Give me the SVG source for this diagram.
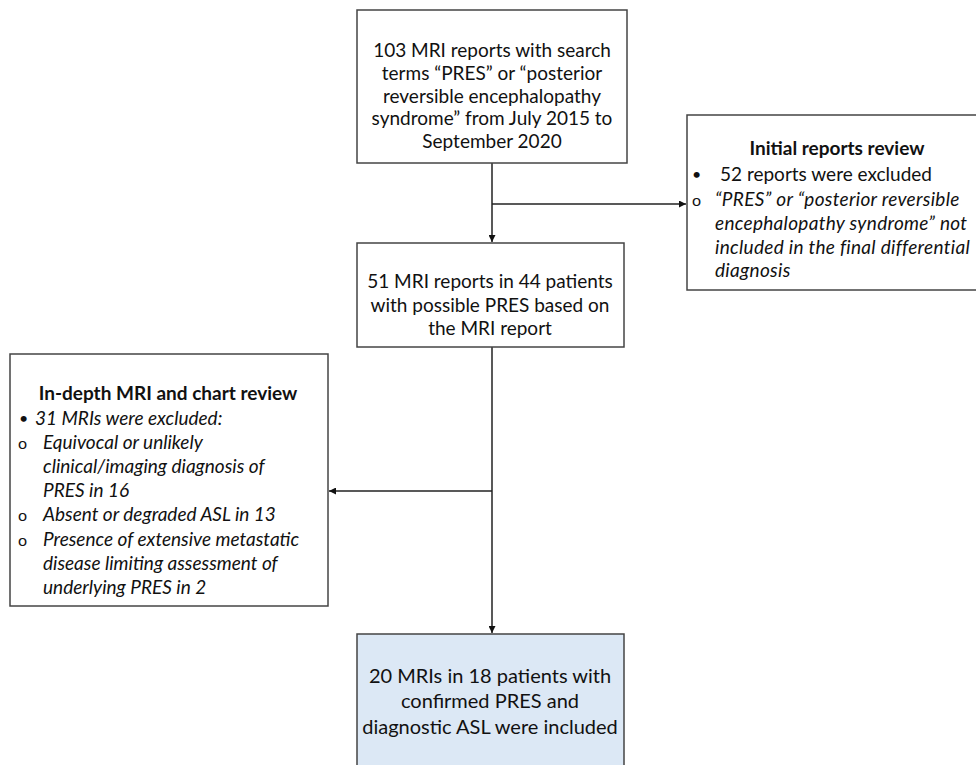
<svg xmlns="http://www.w3.org/2000/svg" width="976" height="765" viewBox="0 0 976 765">
<style>
.box{fill:#fff;stroke:#444;stroke-width:1.5}
.blue{fill:#dce8f5;stroke:#444;stroke-width:1.5}
text{font-family:Lato,"Open Sans","Liberation Sans",sans-serif;font-size:19px;fill:#111}
.c{text-anchor:middle}
.b{font-weight:bold}
.i{font-style:italic}
.o{font-size:16px}
.d{font-size:16px}
.conn{stroke:#222;stroke-width:1.5;fill:none}
</style>
<defs>
<marker id="ah" viewBox="0 0 10 10" refX="10" refY="5" markerWidth="7" markerHeight="7" markerUnits="userSpaceOnUse" orient="auto">
<path d="M0,0 L10,5 L0,10 z" fill="#111"/>
</marker>
</defs>
<rect width="976" height="765" fill="#fff"/>
<g id="connectors">
<line class="conn" x1="492" y1="163" x2="492" y2="242" marker-end="url(#ah)"/>
<line class="conn" x1="492" y1="204" x2="686" y2="204" marker-end="url(#ah)"/>
<line class="conn" x1="492" y1="347" x2="492" y2="633" marker-end="url(#ah)"/>
<line class="conn" x1="492" y1="491" x2="329" y2="491" marker-end="url(#ah)"/>
</g>
<g id="n1">
<rect class="box" x="357" y="10" width="270" height="153"/>
<text class="c" x="492" y="57">103 MRI reports with search</text>
<text class="c" x="492" y="80">terms “PRES” or “posterior</text>
<text class="c" x="492" y="103">reversible encephalopathy</text>
<text class="c" x="492" y="125">syndrome” from July 2015 to</text>
<text class="c" x="492" y="148">September 2020</text>
</g>
<g id="n2">
<rect class="box" x="687" y="115" width="300" height="175"/>
<text class="c b" x="837" y="155">Initial reports review</text>
<text class="d" x="692" y="180">•</text>
<text x="720" y="181">52 reports were excluded</text>
<text class="o" x="692" y="206">o</text>
<text class="i" x="715" y="206" style="letter-spacing:0.3px">“PRES” or “posterior reversible</text>
<text class="i" x="715" y="230" style="letter-spacing:0.3px">encephalopathy syndrome” not</text>
<text class="i" x="715" y="254" style="letter-spacing:0.3px">included in the final differential</text>
<text class="i" x="715" y="277" style="letter-spacing:0.3px">diagnosis</text>
</g>
<g id="n3">
<rect class="box" x="357" y="243" width="267" height="104"/>
<text class="c" x="490" y="288">51 MRI reports in 44 patients</text>
<text class="c" x="490" y="312">with possible PRES based on</text>
<text class="c" x="490" y="335">the MRI report</text>
</g>
<g id="n4">
<rect class="box" x="10" y="354" width="318" height="252"/>
<text class="c b" x="168" y="400">In-depth MRI and chart review</text>
<text class="d" x="19" y="424">•</text>
<text class="i" x="35" y="425">31 MRIs were excluded:</text>
<text class="o" x="18" y="449">o</text>
<text class="i" x="43" y="449">Equivocal or unlikely</text>
<text class="i" x="43" y="473">clinical/imaging diagnosis of</text>
<text class="i" x="43" y="497">PRES in 16</text>
<text class="o" x="18" y="521">o</text>
<text class="i" x="43" y="521">Absent or degraded ASL in 13</text>
<text class="o" x="18" y="546">o</text>
<text class="i" x="43" y="546">Presence of extensive metastatic</text>
<text class="i" x="43" y="570">disease limiting assessment of</text>
<text class="i" x="43" y="594">underlying PRES in 2</text>
</g>
<g id="n5">
<rect class="blue" x="357" y="634" width="267" height="140"/>
<text class="c" x="490" y="683" style="font-size:20px">20 MRIs in 18 patients with</text>
<text class="c" x="490" y="708" style="font-size:20px">confirmed PRES and</text>
<text class="c" x="490" y="734" style="font-size:20px">diagnostic ASL were included</text>
</g>
</svg>
